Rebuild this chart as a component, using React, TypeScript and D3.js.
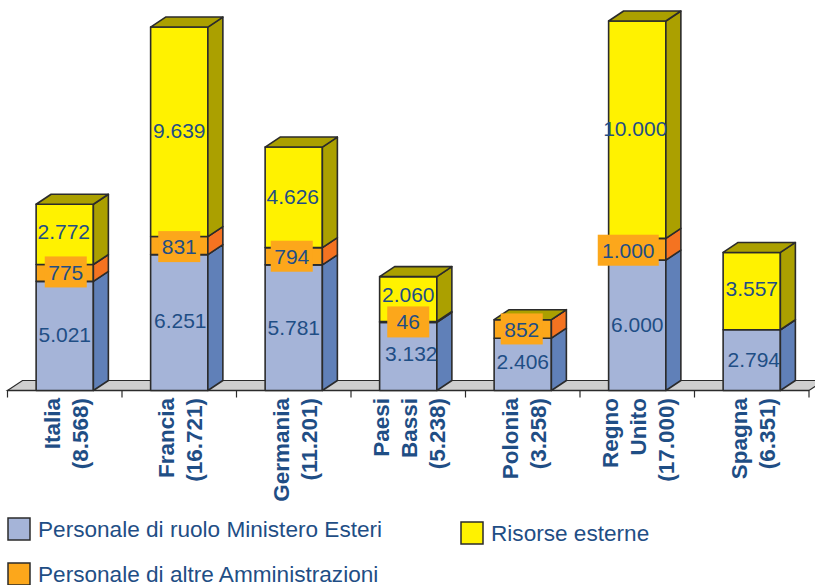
import React from "react";
import * as d3 from "d3";

const categories = ["Italia", "Francia", "Germania", "Paesi Bassi", "Polonia", "Regno Unito", "Spagna"];
const axisLines = [
  ["Italia", "(8.568)"],
  ["Francia", "(16.721)"],
  ["Germania", "(11.201)"],
  ["Paesi", "Bassi", "(5.238)"],
  ["Polonia", "(3.258)"],
  ["Regno", "Unito", "(17.000)"],
  ["Spagna", "(6.351)"],
];
const ruolo = [5021, 6251, 5781, 3132, 2406, 6000, 2794];
const altre = [775, 831, 794, 46, 852, 1000, 0];
const esterne = [2772, 9639, 4626, 2060, 0, 10000, 3557];

const seriesKeys = ["ruolo", "altre", "esterne"];
const seriesValues: Record<string, number[]> = { ruolo, altre, esterne };
const front: Record<string, string> = { ruolo: "#a5b4d8", altre: "#fca71b", esterne: "#fff200" };
const side: Record<string, string> = { ruolo: "#6080b8", altre: "#f47321", esterne: "#aba000" };

// label nudges, the original placed these by hand
const labelDx: Record<string, number[]> = {
  ruolo: [0, 1, 0, 3, 0, 0, 2],
  altre: [1, 0, -2, 0, -1, -9, 0],
  esterne: [-1, 0, -1, 0, 0, -2, 0],
};
const labelDy: Record<string, number[]> = {
  ruolo: [-1, -2, 0, -3, -3, -1, -1],
  altre: [-1, 1, 0, 0, 0, 1, 0],
  esterne: [-3, -1, -1, -5, 0, -1, -3],
};

const textColor = "#1f4e85";
const lineColor = "#2b2b2b";
const depthX = 15;
const depthY = 10;
const fontFamily = "'Liberation Sans', Arial, sans-serif";

const legendItems = [
  { key: "ruolo", label: "Personale di ruolo Ministero Esteri", x: 8, y: 518 },
  { key: "altre", label: "Personale di altre Amministrazioni", x: 8, y: 563 },
  { key: "esterne", label: "Risorse esterne", x: 461, y: 522 },
];

const fmt = (v: number) => d3.format(",")(v).replace(/,/g, ".");

export default function App() {
  const width = 815;
  const height = 585;
  const baseline = 390.5;

  const x = d3
    .scaleBand()
    .domain(categories)
    .range([7.5, 809])
    .paddingInner(0.5)
    .paddingOuter(0.25);
  const y = d3.scaleLinear().domain([0, 17000]).range([baseline, 21]);

  const rows = categories.map((c, i) => ({
    category: c,
    ruolo: ruolo[i],
    altre: altre[i],
    esterne: esterne[i],
  }));
  const stacked = d3.stack().keys(seriesKeys)(rows as any);

  const left = x.range()[0];
  const right = x.range()[1];
  const floor = d3.path();
  floor.moveTo(left, baseline);
  floor.lineTo(left + depthX, baseline - depthY);
  floor.lineTo(right + depthX, baseline - depthY);
  floor.lineTo(right, baseline);
  floor.closePath();

  return (
    <svg
      width={width}
      height={height}
      style={{ position: "absolute", left: 0, top: 0, fontFamily }}
    >
      <path d={floor.toString()} fill="#cfcfcf" stroke={lineColor} strokeWidth={1.2} />
      <line x1={left} x2={right} y1={baseline} y2={baseline} stroke={lineColor} strokeWidth={1.5} />
      {d3.range(categories.length + 1).map((i) => (
        <line
          key={i}
          x1={left + i * x.step()}
          x2={left + i * x.step()}
          y1={baseline}
          y2={baseline + 7}
          stroke={lineColor}
          strokeWidth={1.2}
        />
      ))}

      {categories.map((c, i) => {
        const x0 = x(c)!;
        const w = x.bandwidth();
        return (
          <g key={c} stroke={lineColor} strokeWidth={1.6} strokeLinejoin="round">
            {stacked.map((s) => {
              const y0 = y(s[i][0]);
              const y1 = y(s[i][1]);
              const sidePath = d3.path();
              sidePath.moveTo(x0 + w, y0);
              sidePath.lineTo(x0 + w + depthX, y0 - depthY);
              sidePath.lineTo(x0 + w + depthX, y1 - depthY);
              sidePath.lineTo(x0 + w, y1);
              sidePath.closePath();
              return (
                <g key={s.key}>
                  <rect x={x0} y={y1} width={w} height={y0 - y1} fill={front[s.key]} />
                  <path d={sidePath.toString()} fill={side[s.key]} />
                </g>
              );
            })}
            {(() => {
              const topY = y(stacked[2][i][1]);
              const top = d3.path();
              top.moveTo(x0, topY);
              top.lineTo(x0 + depthX, topY - depthY);
              top.lineTo(x0 + w + depthX, topY - depthY);
              top.lineTo(x0 + w, topY);
              top.closePath();
              return <path d={top.toString()} fill={side.esterne} />;
            })()}
          </g>
        );
      })}

      {categories.map((c, i) =>
        stacked.map((s) => {
          const v = seriesValues[s.key][i];
          if (!v) return null;
          const cx = x(c)! + x.bandwidth() / 2 + labelDx[s.key][i];
          const cy = (y(s[i][0]) + y(s[i][1])) / 2 + labelDy[s.key][i];
          const label = fmt(v);
          const boxW = label.length > 3 ? 61 : 42;
          return (
            <g key={s.key}>
              {s.key === "altre" && (
                <rect x={cx - boxW / 2} y={cy - 15.5} width={boxW} height={31} fill={front.altre} />
              )}
              <text
                x={cx}
                y={cy}
                dy="0.36em"
                textAnchor="middle"
                fontSize={21}
                fill={textColor}
              >
                {label}
              </text>
            </g>
          );
        })
      )}

      {axisLines.map((lines, i) => {
        const cx = x(categories[i])! + x.bandwidth() / 2 + 1;
        const gap = 28;
        return lines.map((t, j) => (
          <text
            key={t}
            transform={`translate(${cx + (j - (lines.length - 1) / 2) * gap},398) rotate(-90)`}
            dy="0.36em"
            textAnchor="end"
            fontSize={22.5}
            fontWeight="bold"
            fill={textColor}
          >
            {t}
          </text>
        ));
      })}

      {legendItems.map((d) => (
        <g key={d.key}>
          <rect x={d.x} y={d.y} width={22} height={22} fill={front[d.key]} stroke={lineColor} strokeWidth={1.5} />
          <text x={d.x + 30} y={d.y + 19} fontSize={22.6} fill={textColor}>
            {d.label}
          </text>
        </g>
      ))}
    </svg>
  );
}
